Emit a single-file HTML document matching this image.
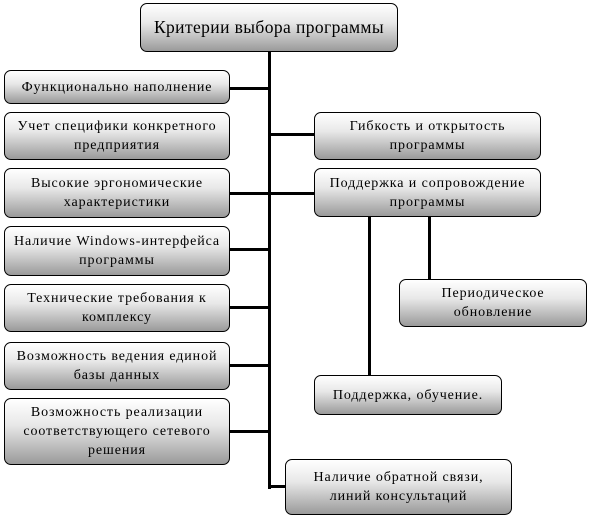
<!DOCTYPE html><html><head><style>
body{margin:0;width:600px;height:519px;background:#fff;position:relative;font-family:"Liberation Serif",serif;overflow:hidden}
.b{position:absolute;box-sizing:border-box;border:1px solid #000;border-radius:7px;background:linear-gradient(#fff 0%,#e8e8e8 40%,#9a9a9a 100%);display:flex;align-items:center;justify-content:center;text-align:center;font-size:14px;letter-spacing:0.9px;line-height:19px;color:#000;white-space:nowrap}
.l{position:absolute;background:#000}
</style></head><body>
<div class="l" style="left:268px;top:52px;width:3px;height:437px"></div>
<div class="l" style="left:230px;top:87px;width:40px;height:3px"></div>
<div class="l" style="left:268px;top:133px;width:46px;height:3px"></div>
<div class="l" style="left:230px;top:192px;width:84px;height:3px"></div>
<div class="l" style="left:230px;top:248px;width:40px;height:3px"></div>
<div class="l" style="left:230px;top:306px;width:40px;height:3px"></div>
<div class="l" style="left:230px;top:364px;width:40px;height:3px"></div>
<div class="l" style="left:230px;top:430px;width:40px;height:3px"></div>
<div class="l" style="left:268px;top:485px;width:18px;height:3px"></div>
<div class="l" style="left:368px;top:217px;width:3px;height:158px"></div>
<div class="l" style="left:428px;top:217px;width:3px;height:62px"></div>
<div class="b" style="left:140px;top:3px;width:258px;height:49px;font-size:17.5px;letter-spacing:0.4px">Критерии выбора программы</div>
<div class="b" style="left:4px;top:70px;width:226px;height:34px">Функционально наполнение</div>
<div class="b" style="left:4px;top:112px;width:226px;height:48px">Учет специфики конкретного<br>предприятия</div>
<div class="b" style="left:4px;top:168px;width:226px;height:50px">Высокие эргономические<br>характеристики</div>
<div class="b" style="left:4px;top:226px;width:226px;height:50px">Наличие Windows-интерфейса<br>программы</div>
<div class="b" style="left:4px;top:284px;width:226px;height:48px">Технические требования к<br>комплексу</div>
<div class="b" style="left:4px;top:342px;width:226px;height:48px">Возможность ведения единой<br>базы данных</div>
<div class="b" style="left:4px;top:398px;width:226px;height:67px">Возможность реализации<br>соответствующего сетевого<br>решения</div>
<div class="b" style="left:314px;top:112px;width:227px;height:48px">Гибкость и открытость<br>программы</div>
<div class="b" style="left:314px;top:168px;width:227px;height:49px">Поддержка и сопровождение<br>программы</div>
<div class="b" style="left:399px;top:279px;width:188px;height:48px">Периодическое<br>обновление</div>
<div class="b" style="left:314px;top:375px;width:188px;height:40px">Поддержка, обучение.</div>
<div class="b" style="left:285px;top:459px;width:227px;height:56px">Наличие обратной связи,<br>линий консультаций</div>
</body></html>
